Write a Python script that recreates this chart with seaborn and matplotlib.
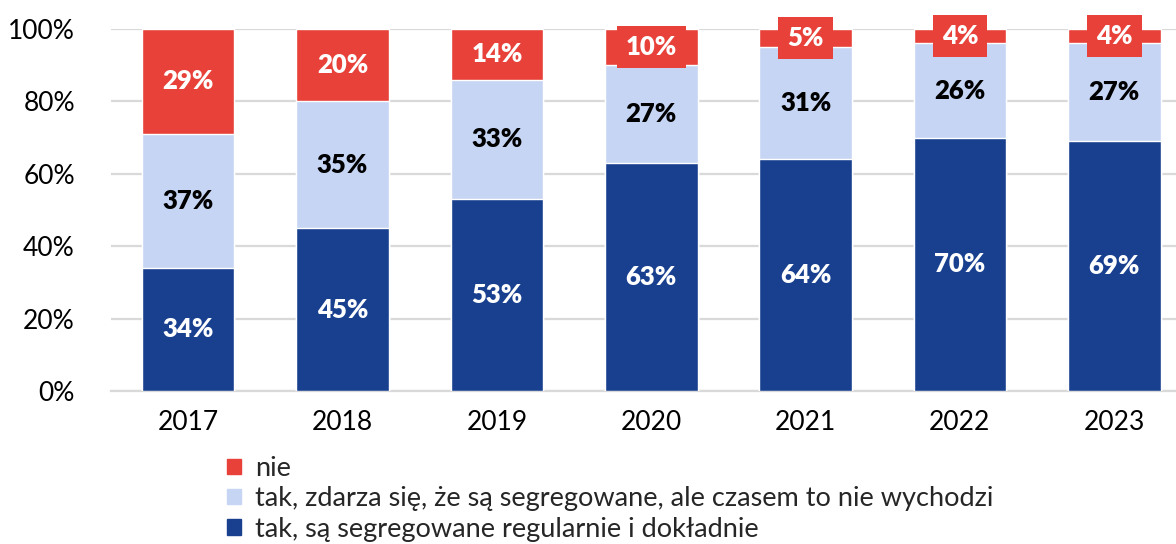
import numpy as np
import pandas as pd
import matplotlib
matplotlib.use("Agg")
import matplotlib.pyplot as plt
import seaborn as sns
from matplotlib.patches import Patch

years = ["2017", "2018", "2019", "2020", "2021", "2022", "2023"]
regularnie = [34, 45, 53, 63, 64, 70, 69]
czasem = [37, 35, 33, 27, 31, 26, 27]
nie = [29, 20, 14, 10, 5, 4, 4]

labels = ["nie",
          "tak, zdarza się, że są segregowane, ale czasem to nie wychodzi",
          "tak, są segregowane regularnie i dokładnie"]
c_red = "#E8413A"
c_light = "#C5D5F3"
c_dark = "#19408F"

sns.set_style("white")
plt.rcParams['font.family'] = ['Lato', 'DejaVu Sans']

df = pd.DataFrame({"year": years, "reg": regularnie, "czas": czasem, "nie": nie})
df["top2"] = df["reg"] + df["czas"]
df["top3"] = df["top2"] + df["nie"]

fig = plt.figure(figsize=(11.76, 5.44), dpi=100)
ax = fig.add_axes([0.0944, 0.2813, 0.9056, 0.6654])

# draw cumulative layers from top to bottom
sns.barplot(data=df, x="year", y="top3", color=c_red, width=0.6, ax=ax, saturation=1, zorder=3)
sns.barplot(data=df, x="year", y="top2", color=c_light, width=0.6, ax=ax, saturation=1, zorder=3)
sns.barplot(data=df, x="year", y="reg", color=c_dark, width=0.6, ax=ax, saturation=1, zorder=3)

ax.set_xlim(-0.5, 6.4)
ax.set_ylim(0, 100)
ax.set_yticks([0, 20, 40, 60, 80, 100])
ax.set_yticklabels([f"{v}%" for v in range(0, 101, 20)])
ax.set_xlabel("")
ax.set_ylabel("")
ax.yaxis.grid(True, color="#D9D9D9", linewidth=1.6, zorder=0)
ax.set_axisbelow(True)
for s in ["top", "right", "left"]:
    ax.spines[s].set_visible(False)
ax.spines["bottom"].set_color("#D9D9D9")
ax.spines["bottom"].set_linewidth(1.6)
ax.tick_params(axis="both", length=0, labelsize=19, colors="black")
ax.tick_params(axis="x", pad=14)
ax.tick_params(axis="y", pad=26)

lab_kw = dict(ha="center", va="center", fontsize=18.5, fontweight="heavy", zorder=5)
for i in range(len(years)):
    r, c, n = regularnie[i], czasem[i], nie[i]
    ax.text(i, r / 2, f"{r}%", color="white", **lab_kw)
    ax.text(i, r + c / 2, f"{c}%", color="black", **lab_kw)
    if n <= 10:
        ax.text(i, r + c + n / 2, f"{n}%", color="white", **lab_kw,
                bbox=dict(boxstyle="square,pad=0.35", fc=c_red, ec="none"))
    else:
        ax.text(i, r + c + n / 2, f"{n}%", color="white", **lab_kw)

handles = [Patch(color=c_red), Patch(color=c_light), Patch(color=c_dark)]
fig.legend(handles, labels, loc="upper left", bbox_to_anchor=(0.193, 0.162),
           frameon=False, fontsize=19.5, handlelength=0.5, handleheight=0.5,
           handletextpad=0.55, labelspacing=0.2, borderaxespad=0, borderpad=0)

fig.savefig("out.png", dpi=100)
